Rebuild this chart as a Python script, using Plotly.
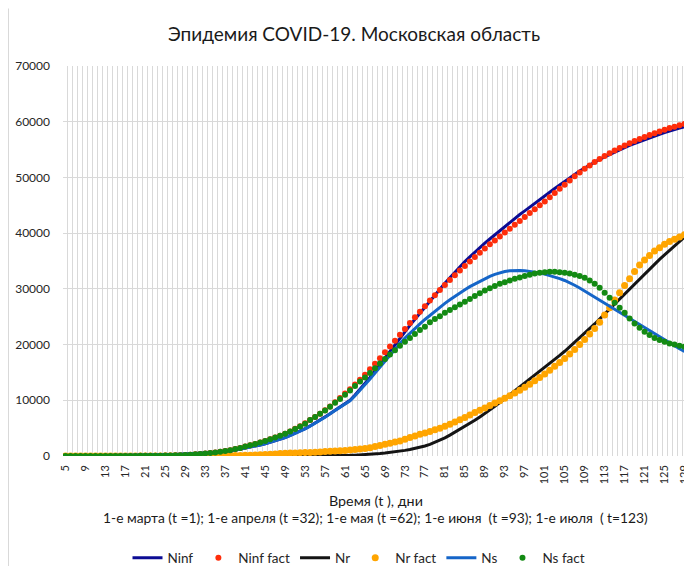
import plotly.graph_objects as go

t = list(range(5, 130))
tick_vals = list(range(5, 130, 4))

ninf = [20,25,30,35,40,45,50,60,70,80,90,100,110,120,135,150,
        165,180,200,220,240,265,290,320,350,385,420,460,
        500,560,630,710,
        800,940,1090,1240,1400,
        1590,1780,1980,2200, 2460,2730,3010,3300, 3680,4070,4480,4900, 5400,5920,6450,7000,
        7600,8200,8850,9400, 10000,10950,11950,13000, 14100,15250,16450,17650, 18850,20050,21200,22350,
        23450,24550,25650,26750, 27850,28950,30000,31000, 32000,33000,33950,34900, 35750,36600,37400,38200,
        38950,39700,40450,41200, 41950,42650,43350,44000, 44700,45400,46050,46700, 47350,48000,48650,49300,
        50000,50600,51150,51700, 52250,52750,53250,53700, 54150,54550,54950,55350, 55750,56100,56450,56800,
        57150,57450,57750,58050, 58350,58600,58850,59100]

ninf_fact = [0,0,0,0,0,0,0,1,2,3,5,8,10,15,20,25,
             30,40,50,65,80,100,120,150,190,240,300,370,
             450,540,640,760,
             900,1050,1250,1450,1700,
             1930,2170,2420,2700, 3000,3300,3640,4000, 4400,4870,5350,5900, 6450,7000,7580,8200,
             8900,9650,10400,11200, 12000,12850,13700,14600, 15550,16550,17550,18600, 19650,20700,21750,22800,
             23850,24900,25900,26900, 27900,28850,29800,30700, 31600,32450,33300,34100, 34900,35700,36500,37250,
             38000,38700,39400,40100, 40800,41500,42200,42900, 43600,44300,45000,45700, 46450,47200,47950,48700,
             49450,50200,50900,51550, 52150,52750,53300,53850, 54350,54850,55300,55750, 56150,56550,56900,57250,
             57600,57950,58250,58550, 58850,59100,59350,59600]

nr = [0]*40 + [3,5,7,10,13,17,21,26,31,37,44,52,61,71,82,94,107,
      125,150,185,230, 290,360,440,520, 620,740,870,1010, 1170,1350,1560,1800,
      2100,2450,2850,3250, 3750,4250,4750,5300, 5850,6400,7000,7600, 8250,8900,9600,10300,
      10950,11600,12300,13000, 13700,14400,15100,15800, 16550,17300,18050,18800, 19600,20400,21200,22000,
      22850,23700,24600,25500, 26400,27300,28200,29100, 30000,30900,31800,32700, 33600,34500,35300,36100,
      36900,37700,38500,39300]

nr_fact = [0]*26 + [5,8,10,15,20,30,40,55,70,90,
           120,150,190,230,280,330,380,430,480,520,560,600,
           620,650,690,740, 800,850,900,950, 1000,1080,1160,1250, 1350,1500,1700,1900,
           2100,2300,2500,2700, 3000,3300,3600,3900, 4150,4400,4700,5000, 5350,5700,6100,6500,
           6900,7350,7800,8200, 8600,9050,9500,9900, 10350,10800,11300,11800, 12350,12900,13500,14100,
           14700,15400,16100,16800, 17500,18300,19100,20000, 20900,21900,22900,24000, 25300,26600,28000,29300,
           30600,31800,33100,34300, 35200,36000,36800,37400, 38000,38500,38900,39300,39700]

ns = [20,25,30,35,40,45,50,60,70,80,90,100,110,120,135,150,
      165,180,200,220,240,265,290,320,350,385,420,460,
      500,560,630,710,
      800,940,1090,1240,1400,
      1590,1780,1980,2195, 2455,2720,3000,3285, 3660,4045,4450,4870, 5360,5875,6395,6935,
      7580,8170,8800,9330, 9900,10820,11780,12780, 13820,14900,15980,17080, 18150,19200,20200,21150,
      22050,22900,23700,24500, 25250,26000,26700,27400, 28050,28700,29300,29850, 30400,30900,31400,31850,
      32250,32600,32900,33100, 33250,33300,33300,33250, 33150,33000,32850,32650, 32400,32150,31850,31500,
      31100,30650,30150,29600, 29050,28500,27950,27400, 26850,26300,25750,25200, 24650,24100,23550,23000,
      22450,21900,21350,20800, 20250,19750,19250,18750]

ns_fact = [0,0,0,0,0,0,0,1,2,3,5,8,10,15,20,25,
           30,40,50,65,80,100,120,150,190,240,300,370,
           450,540,640,760,
           900,1050,1250,1450,1700,
           1930,2170,2420,2700, 3000,3300,3640,4000, 4400,4850,5300,5800, 6450,7000,7580,8150,
           8850,9550,10250,11000, 11750,12550,13350,14100, 14900,15750,16600,17400, 18200,19000,19800,20500,
           21200,21900,22600,23200, 24000,24600,25100,25700, 26200,26700,27200,27700, 28200,28700,29200,29700,
           30100,30500,30900,31200, 31500,31800,32050,32300, 32550,32750,32900,33000, 33050,33050,33000,32900,
           32750,32550,32300,32000, 31500,30900,30200,29300, 28400,27500,26600,25700, 24700,23800,23000,22300,
           21700,21200,20800,20500, 20200,20000,19800,19600]

for arr in (ninf, ninf_fact, nr, nr_fact, ns, ns_fact):
    assert len(arr) == len(t), len(arr)

FONT = "Lato, 'Open Sans', sans-serif"

# page has an 8px body margin; figure is sized so the plot lands where the reference has it
W, H = 684, 559
ML, MR, MT = 55, 5, 58
PW, PH = W - ML - MR, 390
MB = H - MT - PH


def px_x(page_x):
    return (page_x - 8 - ML) / PW


def px_y(page_y):
    return (H - MB - (page_y - 8)) / PH


fig = go.Figure()
fig.add_trace(go.Scatter(x=t, y=ninf, name="Ninf", mode="lines",
                         line=dict(color="#0c0c94", width=3)))
fig.add_trace(go.Scatter(x=t, y=ninf_fact, name="Ninf fact", mode="markers",
                         marker=dict(color="#ff2d0a", size=6)))
fig.add_trace(go.Scatter(x=t, y=nr, name="Nr", mode="lines",
                         line=dict(color="#141414", width=3)))
fig.add_trace(go.Scatter(x=t, y=nr_fact, name="Nr fact", mode="markers",
                         marker=dict(color="#ffa500", size=7)))
fig.add_trace(go.Scatter(x=t, y=ns, name="Ns", mode="lines",
                         line=dict(color="#1565c8", width=3)))
fig.add_trace(go.Scatter(x=t, y=ns_fact, name="Ns fact", mode="markers",
                         marker=dict(color="#138a13", size=6)))

fig.update_layout(
    width=W, height=H,
    margin=dict(l=ML, r=MR, t=MT, b=MB, autoexpand=False),
    paper_bgcolor="white", plot_bgcolor="white",
    font=dict(family=FONT, color="#262626"),
    title=dict(text="Эпидемия COVID-19. Московская область",
               x=(354 - 8) / W, xanchor="center", xref="container",
               y=1 - (34 - 8) / H, yanchor="middle", yref="container",
               font=dict(size=19, color="#1a1a1a", family=FONT)),
    showlegend=True,
    legend=dict(orientation="h", x=px_x(359), xanchor="center", y=px_y(558), yanchor="middle",
                font=dict(size=13.5, color="#262626"), itemwidth=30, tracegroupgap=0),
    xaxis=dict(range=[4.5, 129.5], tickmode="array", tickvals=tick_vals,
               ticktext=[str(v) for v in tick_vals], tickangle=-90,
               tickfont=dict(size=11, color="#262626"), showgrid=False, zeroline=False,
               showline=False, ticks="", ticklabelstandoff=6, automargin=False,
               minor=dict(tick0=4.5, dtick=1, showgrid=True, gridcolor="#d9d9d9", gridwidth=1)),
    yaxis=dict(range=[0, 70000], dtick=10000, tickformat="d", showgrid=True,
               gridcolor="#d9d9d9", gridwidth=1, zeroline=False, showline=False, automargin=False,
               ticks="", tickfont=dict(size=12, color="#262626"), ticklabelstandoff=12),
    annotations=[
        dict(text="Время (t ), дни", x=px_x(376), y=px_y(500), xref="paper", yref="paper",
             xanchor="center", yanchor="middle", showarrow=False,
             font=dict(size=14.3, color="#1a1a1a")),
        dict(text="1-е марта (t =1); 1-е апреля (t =32); 1-е мая (t =62); 1-е июня  (t =93); 1-е июля  ( t=123)",
             x=px_x(375), y=px_y(518), xref="paper", yref="paper",
             xanchor="center", yanchor="middle", showarrow=False,
             font=dict(size=13.8, color="#1a1a1a")),
    ],
    shapes=[dict(type="line", xref="paper", yref="paper",
                 x0=px_x(8.5), x1=px_x(8.5), y0=px_y(566), y1=px_y(8.5),
                 line=dict(color="#d9d9d9", width=1), layer="below")],
)

fig.write_html("out.html")
